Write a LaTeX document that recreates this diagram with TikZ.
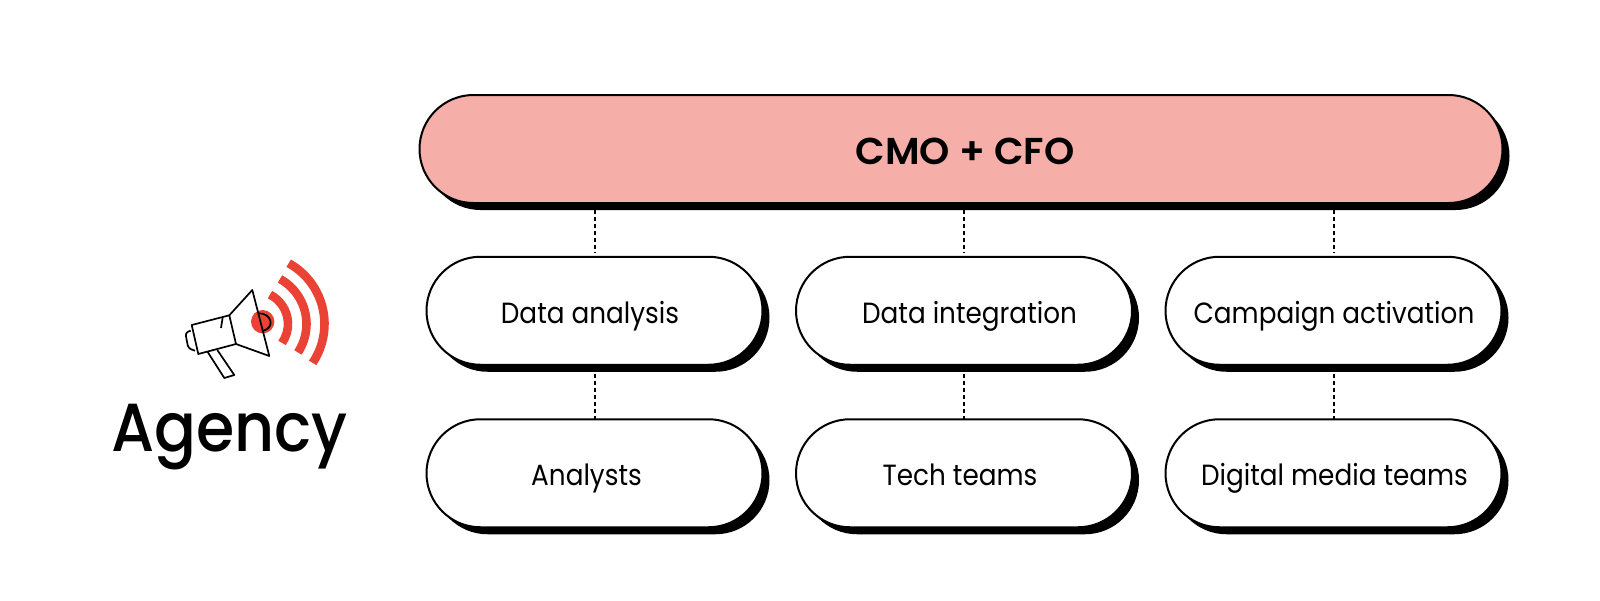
\documentclass[tikz,border=0pt]{standalone}
\usepackage{fontspec}
\setmainfont{Poppins}
\newfontfamily\pillfont[FakeStretch=0.9]{Poppins}
\newfontfamily\boardfont[FakeStretch=1.03]{Poppins SemiBold}
\newfontfamily\agencyfont[FakeStretch=0.91]{Poppins Medium}
\usetikzlibrary{positioning, shapes.misc, shadows}
\definecolor{pillred}{HTML}{F6AEA9}
\definecolor{signalred}{HTML}{EA4335}
\newcommand{\nudge}[1]{\hspace*{#1pt}}

\begin{document}
\begin{tikzpicture}[
  x=0.5pt, y=-0.5pt, % 1 unit = 1 pixel of the reference, y runs down
  pill/.style={rounded rectangle, draw=black, line width=1pt, fill=white, inner sep=0pt, outer sep=0pt,
    minimum width=168pt, minimum height=54pt, text height=14pt, text depth=1.5pt, font=\pillfont\fontsize{14.6}{16}\selectfont,
    drop shadow={shadow xshift=3.5pt, shadow yshift=-3.5pt, fill=black, opacity=1}},
  toppill/.style={pill, fill=pillred, minimum width=541.5pt, text height=17pt, text depth=1.2pt, font=\boardfont\fontsize{18.7}{20}\selectfont},
  dotline/.style={line width=1pt, dash pattern=on 2pt off 1.5pt},
  phone/.style={line width=0.85pt, line join=round}
]
  \useasboundingbox (0,0) rectangle (1600,600);

  % top bar
  \node[toppill] (board) at (961,149) {\nudge{4}CMO + CFO};

  % two rows of pills
  \node[pill] (analysis) at (594.5,310.75) {\nudge{-4.5}Data analysis};
  \node[pill] (integration) at (964,310.75) {\nudge{5.5}Data integration};
  \node[pill] (activation) at (1333.5,310.75) {\nudge{0.5}Campaign activation};
  \node[pill] (analysts) at (594.5,473.25) {\nudge{-8}Analysts};
  \node[pill] (tech) at (964,473.25) {\nudge{-4}Tech teams};
  \node[pill] (media) at (1333.5,473.25) {\nudge{1}Digital media teams};

  % connectors
  \foreach \mid/\low in {analysis/analysts,integration/tech,activation/media} {
    \draw[dotline, shorten <=3.5pt, shorten >=2pt] (board.south -| \mid.north) -- (\mid.north);
    \draw[dotline, shorten <=4.5pt] (\mid.south) -- (\low.north);
  }

  % megaphone
  \coordinate (wave) at (255,324);
  \fill[signalred] (262.7,321.7) circle[radius=11.7];
  \foreach \r/\a/\b in {33/-63/35,51.5/-61/33.5,69.5/-61/34} {
    \draw[signalred, line width=4.3pt] ([shift={(\a:\r)}]wave) arc[start angle=\a, end angle=\b, radius=\r];
  }
  \draw[phone] (191.7,325) -- (229.3,315.3) -- (236,344) -- (198.3,354) -- cycle;
  \draw[phone] (229.3,315.3) -- (252.3,290) -- (269.3,356) -- (236,344);
  \draw[phone, rounded corners=1.5pt] (190.7,330.7) -- (185.3,332.7) -- (188.3,348.3) -- (195,350.7);
  \draw[phone] (207.7,352) -- (224.3,378) -- (234.3,375) -- (217.3,350);
  \draw[phone] (222.7,317.3) -- (221,328);
  \draw[phone] (258.7,313.3) .. controls (272,313) and (275,328) .. (263.3,330.7);

  \node[inner sep=0pt, anchor=base west, font=\agencyfont\fontsize{34}{36}\selectfont] (agency) at (111,451) {Agency};
\end{tikzpicture}
\end{document}
